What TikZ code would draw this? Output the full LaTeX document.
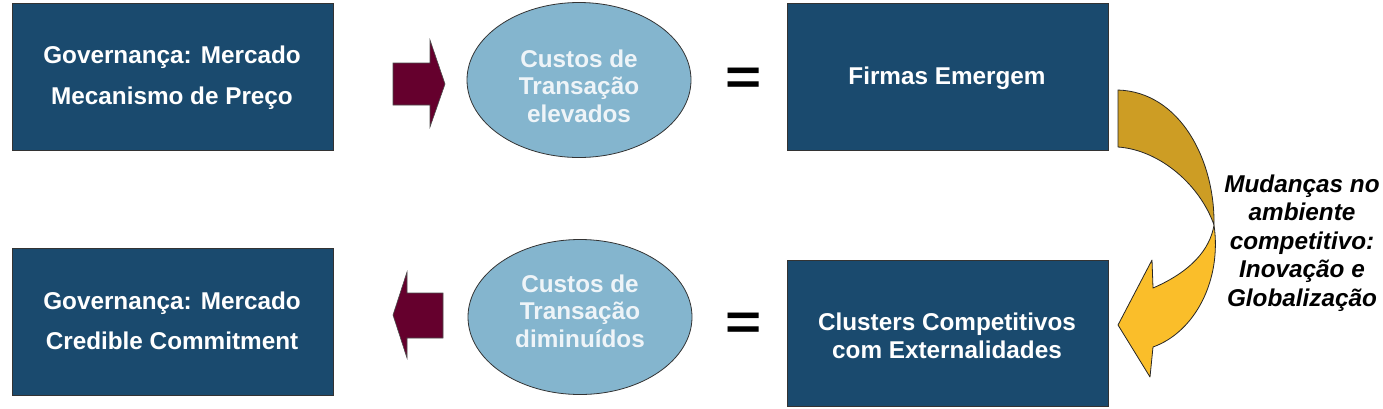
\documentclass[tikz,border=0pt]{standalone}
\usepackage{fontspec}
\setmainfont{Liberation Sans}
\usetikzlibrary{shapes.geometric}
\definecolor{boxblue}{RGB}{26,74,110}
\definecolor{ellblue}{RGB}{132,181,206}
\definecolor{elltext}{RGB}{238,244,248}
\definecolor{maroon}{RGB}{101,0,45}
\definecolor{golddark}{RGB}{205,157,36}
\definecolor{goldlight}{RGB}{250,190,42}
\begin{document}
\begin{tikzpicture}[x=1pt,y=-1pt,
  bluebox/.style={draw=black!80,line width=0.8pt,fill=boxblue,minimum width=321pt,minimum height=147pt,inner sep=0pt,anchor=north west},
  boxtext/.style={text=white,font=\bfseries\fontsize{24.3}{28}\selectfont,align=center},
  ellnode/.style={draw=black!80,line width=0.8pt,fill=ellblue,ellipse,minimum width=224pt,minimum height=155pt,inner sep=0pt},
  elltextstyle/.style={text=elltext,font=\bfseries\fontsize{24.3}{27.5}\selectfont,align=center},
  fatarrow/.style={draw=black!70,line width=0.6pt,fill=maroon},
  eqsign/.style={font=\bfseries\fontsize{62}{62}\selectfont,inner sep=0pt},
  curvepart/.style={draw=black!85,line width=0.8pt,line join=round}]
\useasboundingbox (0,0) rectangle (1383,408);
% boxes
\node[bluebox] (b1) at (12,3) {};
\node[bluebox] (b2) at (787,3) {};
\node[bluebox] (b3) at (12,248) {};
\node[bluebox,minimum height=146pt] (b4) at (787,260) {};
\node[boxtext] (t1a) at (172,57) {Governança: Mercado};
\node[boxtext] (t1b) at (172,98) {Mecanismo de Preço};
\node[boxtext] (t2) at (947,78) {Firmas Emergem};
\node[boxtext] (t3a) at (172,303) {Governança: Mercado};
\node[boxtext] (t3b) at (172,341) {Credible Commitment};
\node[boxtext] (t4) at (947,336) {Clusters Competitivos\\com Externalidades};
% ellipses
\node[ellnode] (e1) at (579,80) {};
\node[elltextstyle] (e1t) at (579,86) {Custos de\\Transação\\elevados};
\node[ellnode] (e2) at (580,317) {};
\node[elltextstyle] (e2t) at (580,311) {Custos de\\Transação\\diminuídos};
% equals signs
\node[eqsign] (eq1) at (744,81) {\scalebox{1}[0.82]{=}};
\node[eqsign] (eq2) at (744,326) {\scalebox{1}[0.82]{=}};
% fat arrows
\draw[fatarrow] (393,63) -- (430,63) -- (430,40) -- (445,84) -- (430,127) -- (430,105) -- (393,105) -- cycle;
\draw[fatarrow] (443,293) -- (407,293) -- (407,272) -- (393,315) -- (407,358) -- (407,338) -- (443,338) -- cycle;
% curved arrow
\coordinate (cA) at (1214,225);
\draw[curvepart,fill=goldlight] (cA) .. controls (1222,280) and (1195,332) .. (1153,347)
  -- (1150,377) -- (1118,325) -- (1152,260) -- (1153,288)
  .. controls (1190,272) and (1210,250) .. (cA) -- cycle;
\draw[curvepart,fill=golddark] (1118,90) .. controls (1180,92) and (1215,160) .. (cA)
  .. controls (1200,185) and (1160,150) .. (1118,147) -- cycle;
\node[font=\bfseries\itshape\fontsize{24.3}{28.5}\selectfont,align=center] (lbl) at (1302,243)
  {Mudanças no\\ambiente\\competitivo:\\Inovação e\\Globalização};
\end{tikzpicture}
\end{document}
